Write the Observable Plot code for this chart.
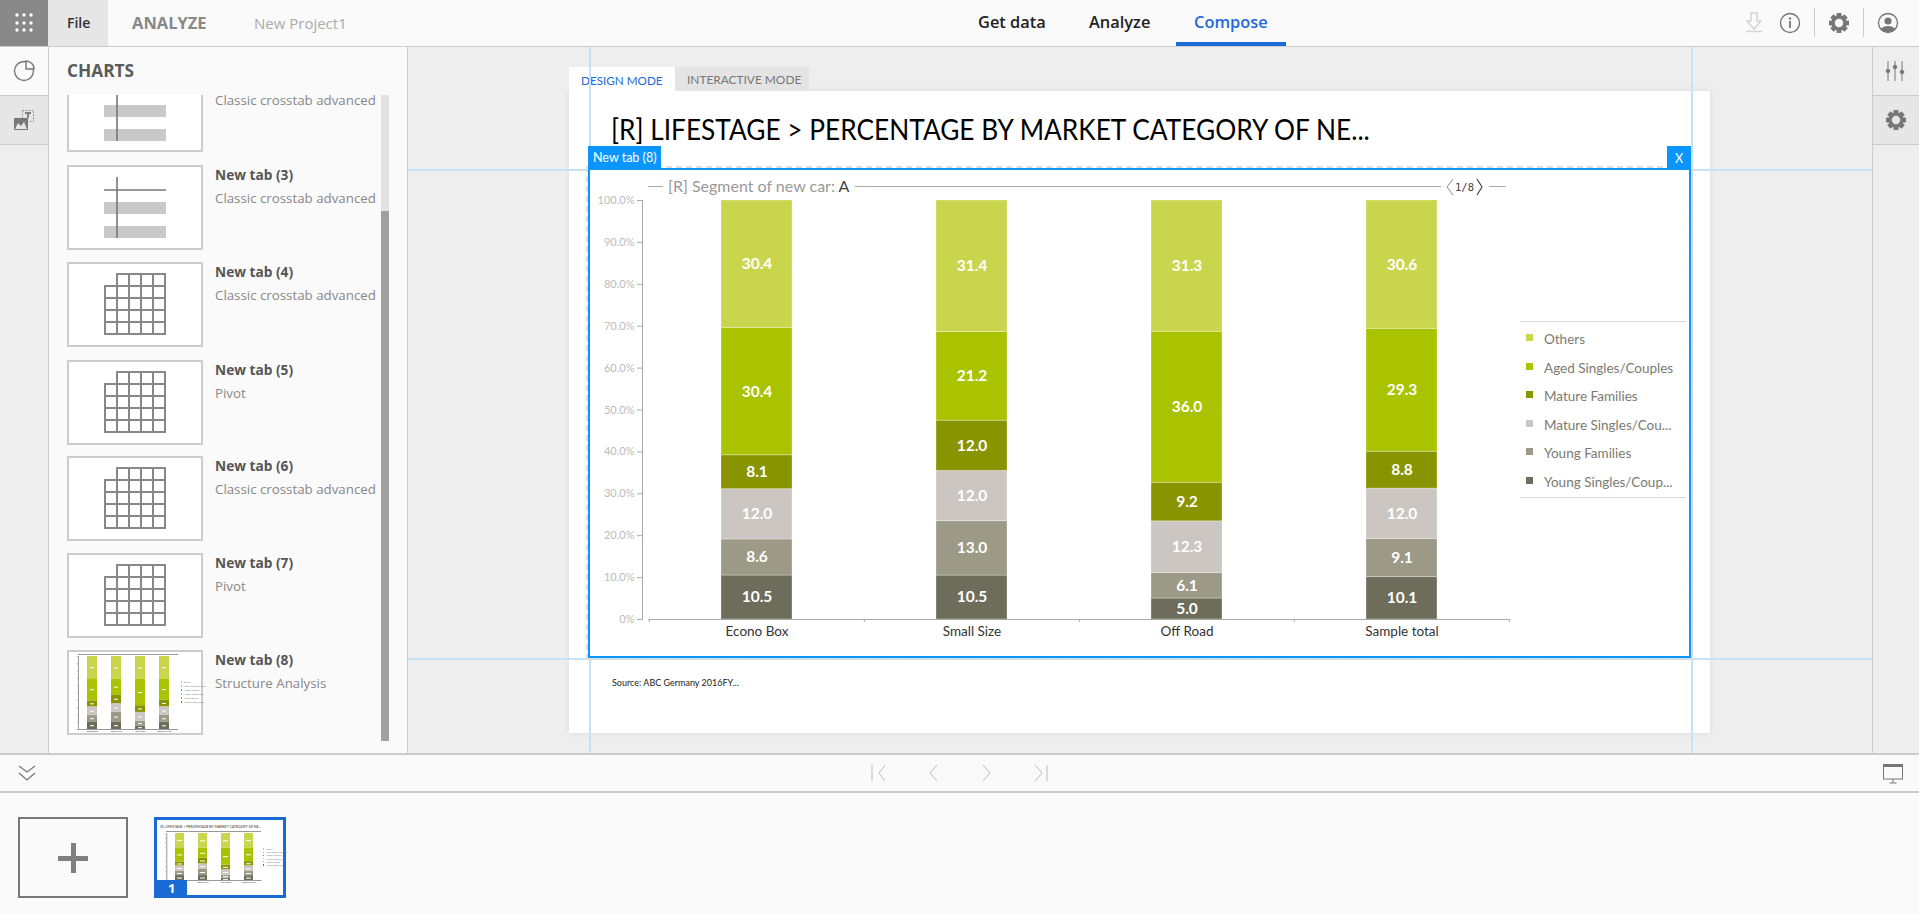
<!DOCTYPE html>
<html><head><meta charset="utf-8">
<script src="https://cdn.jsdelivr.net/npm/d3@7"></script>
<script src="https://cdn.jsdelivr.net/npm/@observablehq/plot@0.6"></script>
<style>
html,body{margin:0;padding:0;width:1919px;height:914px;overflow:hidden;background:#eee;font-family:"Open Sans",sans-serif}
.a{position:absolute;box-sizing:border-box;white-space:nowrap}
.pt{font-family:"Lato",sans-serif}
svg.ic{position:absolute;overflow:visible}
</style></head><body><div id="root"></div>
<script>
const categories=["Econo Box","Small Size","Off Road","Sample total"];
const groups=["Young Singles/Couples","Young Families","Mature Singles/Couples","Mature Families","Aged Singles/Couples","Others"];
const legendLabels=["Others","Aged Singles/Couples","Mature Families","Mature Singles/Cou...","Young Families","Young Singles/Coup..."];
const colors=["#6e6d5b","#9c9a86","#cbc6c2","#889400","#a9c300","#c9d64d"];
const youngSingles=[10.5,10.5,5.0,10.1];
const youngFamilies=[8.6,13.0,6.1,9.1];
const matureSingles=[12.0,12.0,12.3,12.0];
const matureFamilies=[8.1,12.0,9.2,8.8];
const agedSingles=[30.4,21.2,36.0,29.3];
const others=[30.4,31.4,31.3,30.6];
const seriesValues=[youngSingles,youngFamilies,matureSingles,matureFamilies,agedSingles,others];
const table=groups.flatMap((g,i)=>categories.map((c,j)=>({category:c,group:g,value:seriesValues[i][j]})));
const sideItems=[[null,"Classic crosstab advanced"],["New tab (3)","Classic crosstab advanced"],["New tab (4)","Classic crosstab advanced"],["New tab (5)","Pivot"],["New tab (6)","Classic crosstab advanced"],["New tab (7)","Pivot"],["New tab (8)","Structure Analysis"]];
const chartTitle="[R] LIFESTAGE > PERCENTAGE BY MARKET CATEGORY OF NE...";

const root=document.getElementById("root");
function box(l,t,w,h,bg,extra=""){const d=document.createElement("div");d.className="a";d.style.cssText=`left:${l}px;top:${t}px;width:${w}px;height:${h}px;background:${bg};${extra}`;root.appendChild(d);return d;}
function txt(s,l,cy,css,cls=""){const d=document.createElement("div");d.className="a "+cls;d.textContent=s;d.style.cssText=`left:${l}px;top:${cy-15}px;height:30px;line-height:30px;${css}`;root.appendChild(d);return d;}
function svg(l,t,w,h,inner){const d=document.createElement("div");d.innerHTML=`<svg class="ic" style="left:${l}px;top:${t}px" width="${w}" height="${h}" viewBox="0 0 ${w} ${h}">${inner}</svg>`;const s=d.firstChild;root.appendChild(s);return s;}
const gear=(c)=>{let t="";for(let i=0;i<8;i++)t+=`<rect x="-2.4" y="-10" width="4.8" height="4.5" fill="${c}" transform="rotate(${i*45})"/>`;return t+`<circle r="6" fill="none" stroke="${c}" stroke-width="3.6"/>`;};

// ---- chrome
box(0,0,1919,46,"#fafafa");box(0,46,1919,1,"#ccc");
box(0,0,48,46,"#888");
let dots="";for(const y of [15,23,30])for(const x of [17,24,31])dots+=`<circle cx="${x}" cy="${y}" r="1.7" fill="#fff"/>`;svg(0,0,48,46,dots);
box(48,0,60,46,"#e6e6e6");
txt("File",67,23,"font-size:14px;font-weight:600;color:#333");
txt("ANALYZE",132,23,"font-size:16.5px;font-weight:700;color:#888");
txt("New Project1",254,23,"font-size:15px;color:#aaa");
txt("Get data",978,22,"font-size:16.4px;font-weight:600;color:#222");
txt("Analyze",1089,22,"font-size:16.4px;font-weight:600;color:#222");
txt("Compose",1194,22,"font-size:16.4px;font-weight:600;color:#2469d8");
box(1176,42,110,4,"#1a6ad6");
// top right icons
svg(1740,10,30,26,`<path d="M11 3h6v8h4l-7 8-7-8h4z" fill="none" stroke="#d4d4d4" stroke-width="1.5"/><path d="M6 21.5h16" stroke="#d4d4d4" stroke-width="1.5"/>`);
svg(1778,10,26,26,`<circle cx="12" cy="13" r="9.5" fill="none" stroke="#777" stroke-width="1.4"/><circle cx="12" cy="8.5" r="1.2" fill="#777"/><path d="M12 11v7" stroke="#777" stroke-width="1.8"/>`);
box(1814,8,1,29,"#ccc");box(1863,8,1,29,"#ccc");
svg(1826,10,26,26,`<g transform="translate(13,13)">${gear("#777")}</g>`);
svg(1875,10,26,26,`<circle cx="13" cy="13" r="9.5" fill="none" stroke="#777" stroke-width="1.4"/><circle cx="13" cy="11" r="3.6" fill="#777"/><path d="M6 19c2-4 12-4 14 0l-3 3h-8z" fill="#777"/>`);

// left rail + sidebar
box(0,47,48,48,"#fafafa");box(0,95,48,1,"#ccc");box(0,96,48,48,"#e6e6e6");box(0,144,48,1,"#ccc");box(48,47,1,706,"#ccc");
svg(12,58,26,26,`<circle cx="12" cy="13" r="9.5" fill="none" stroke="#777" stroke-width="1.4"/><path d="M14 3v8h8a8 8 0 0 0-8-8z" fill="#fafafa" stroke="#777" stroke-width="1.4"/>`);
svg(12,108,26,26,`<path d="M2 22V10h14v12z" fill="#777"/><path d="M3 21l3-6 3 3 3-4 3 7z" fill="#e6e6e6"/><rect x="10.5" y="2.5" width="11" height="11" fill="none" stroke="#888" stroke-dasharray="1.5 1.5"/><path d="M13 5h6M16 5v5" stroke="#666" stroke-width="1.5"/>`);
box(49,47,358,706,"#fafafa");box(407,47,1,706,"#ccc");
txt("CHARTS",67,71,"font-size:17.3px;font-weight:700;color:#5a5a5a");
// guides + workspace
box(408,47,1464,706,"#eee");
box(1872,47,1,706,"#ccc");box(1873,47,46,48,"#eee");box(1873,95,46,1,"#ccc");box(1873,96,46,48,"#e6e6e6");box(1873,144,46,1,"#ccc");
svg(1880,56,32,30,`<g stroke="#777" stroke-width="1" fill="#777"><path d="M8 5v20M15 5v20M22 5v20"/><circle cx="8" cy="15" r="1.8"/><circle cx="15" cy="11" r="1.8"/><circle cx="22" cy="16" r="1.8"/></g>`);
svg(1883,107,26,26,`<g transform="translate(13,13)">${gear("#777")}</g>`);

// page
box(569,91,1141,642,"#fff","box-shadow:0 0 6px rgba(0,0,0,.08)");
box(569,67,106,24,"#fff");box(675,67,134,24,"#e4e4e4");
txt("DESIGN MODE",581,80,"font-size:11.7px;color:#2469d8;","pt");
txt("INTERACTIVE MODE",687,80,"font-size:11.9px;color:#777;","pt");
txt(chartTitle,611,129,"font-size:29.5px;color:#000;transform-origin:left center;transform:scaleX(0.89);","pt");
txt("Source: ABC Germany 2016FY...",612,683,"font-size:9px;color:#222;","pt");
// guides
const gc="#c4e3f7";
box(408,169,1464,2,gc);box(408,658,1464,2,gc);box(589,47,2,706,gc);box(1691,47,2,706,gc);
// frame
box(586,166,1107,494,"transparent","border:2px dashed #ddd");
box(588,168,1103,490,"#fff","border:2.5px solid #0b96ff");
box(588,146,73,23,"#0b96ff");txt("New tab (8)",593,158,"font-size:12.5px;color:#fff;","pt");
box(1667,146,24,23,"#0b96ff");txt("X",1675,159,"font-size:12.5px;color:#fff;","pt");

// header of the chart
const lineC="#aaa";
box(648,186,15,1,lineC);
const seg=txt("",668,186,"font-size:16px;color:#999;","pt");
seg.innerHTML='[R] Segment of new car: <span style="color:#444">A</span>';
box(855,186,586,1,lineC);
svg(1442,176,52,22,`<path d="M11 3l-6 8 6 8" fill="none" stroke="#888" stroke-width="1"/><path d="M35 3l5 8-5 8" fill="none" stroke="#444" stroke-width="1.2"/>`);
txt("1/8",1455,187,"font-size:10.5px;color:#444;font-family:'DejaVu Sans Mono',monospace");
box(1489,186,17,1,lineC);

// ---- main chart
function chart(){
  const step=215.4;
  const yFmt=d=>d===0?"0%":(d*100).toFixed(1)+"%";
  const stack={offset:"normalize",order:groups};
  const p=Plot.plot({
    width:1100,height:470,marginLeft:52,marginRight:180,marginTop:30,marginBottom:21,
    style:{background:"transparent",fontFamily:"Lato, sans-serif",overflow:"visible"},
    x:{type:"band",domain:categories,paddingInner:0.669,paddingOuter:0.3345,align:0.5,insetLeft:6.4,label:null},
    y:{domain:[0,1],label:null},
    color:{domain:groups,range:colors},
    marks:[
      Plot.barY(table,Plot.stackY(stack,{x:"category",y:"value",z:"group",fill:"group",stroke:"#fff",strokeOpacity:0.3,strokeWidth:1})),
      Plot.text(table,Plot.stackY(stack,{x:"category",y:"value",z:"group",text:d=>d.value.toFixed(1),fill:"#fff",fontSize:15.5,fontWeight:700})),
      Plot.frame({anchor:"left",stroke:"#aaa"}),
      Plot.axisY({ticks:d3.range(0,1.01,0.1),tickFormat:yFmt,tickSize:5,tickPadding:3,stroke:"#aaa",fill:"#bbb",fontSize:11,label:null}),
      Plot.ruleY([0],{insetLeft:6.4,stroke:"#aaa"}),
      Plot.axisX({tickSize:0,tickPadding:7,fill:"#333",fontSize:13.5,label:null}),
      Plot.axisX({tickSize:3,fill:"none",stroke:"#aaa",dx:-step/2,label:null}),
      Plot.axisX([categories[3]],{tickSize:3,fill:"none",stroke:"#aaa",dx:step/2,label:null})
    ]
  });
  p.style.position="absolute";p.style.left="590px";p.style.top="170px";
  root.appendChild(p);
}
chart();
// legend
box(1520,321,166,1,"#ddd");box(1520,497,166,1,"#ddd");
const legendColors=colors.slice().reverse();
const legY=[338,367,395,424,452,481];
legendLabels.forEach((s,i)=>{box(1526,legY[i]-4,7,7,legendColors[i]);txt(s,1544,legY[i]+1,"font-size:13.5px;color:#7a7a72;","pt");});

// ---- sidebar list
const itemTop=[67,165,262,360,456,553,650];
sideItems.forEach((it,i)=>{
  const t=itemTop[i];
  const vis=Math.max(t,95);
  box(67,vis,136,t+85-vis,"#fff",`border:2px solid #ccc;${i==0?"border-top:none;":""}`);
  if(it[0])txt(it[0],215,t+10,"font-size:13.7px;font-weight:700;color:#555");
  txt(it[1],215,t+33,"font-size:13.3px;color:#888");
  if(i===0)svg(67,95,136,57,`<rect x="37" y="10" width="62" height="12" fill="#c9c9c9"/><rect x="37" y="34" width="62" height="12" fill="#c9c9c9"/><path d="M50 0v46" stroke="#777" stroke-width="1.6"/>`);
  if(i===1)svg(67,t,136,85,`<rect x="37" y="37" width="62" height="12" fill="#c9c9c9"/><rect x="37" y="61" width="62" height="12" fill="#c9c9c9"/><path d="M50 12v61" stroke="#777" stroke-width="1.6"/><path d="M37 25h62" stroke="#777" stroke-width="1.6"/>`);
  if(i>=2&&i<=5){let g="";
    for(let r=0;r<5;r++)for(let c=0;c<5;c++){if(r<1&&c<1)continue;g+=`<rect x="${38+c*12}" y="${12+r*12}" width="12" height="12" fill="none" stroke="#888" stroke-width="2"/>`;}
    svg(67,t,136,85,g);}
});
box(381,95,8,646,"#e2e2e2");box(381,211,8,530,"#a0a0a0");

function mini(host,w,h,m,ins){
  const stack={offset:"normalize",order:groups};
  const p=Plot.plot({width:w,height:h,...m,
    style:{background:"transparent",position:"absolute",left:host[0]+"px",top:host[1]+"px",overflow:"visible"},
    x:{type:"band",domain:categories,paddingInner:0.59,paddingOuter:0.31,label:null},y:{domain:[0,1],label:null},color:{domain:groups,range:colors},
    marks:[
      Plot.barY(table,Plot.stackY(stack,{x:"category",y:"value",z:"group",fill:"group"})),
      Plot.tickY(table,Plot.stackY(stack,{x:"category",y:"value",z:"group",stroke:"#fff",insetLeft:ins,insetRight:ins})),
      Plot.frame({anchor:"left",stroke:"#999"}),
      Plot.ruleY([0],{stroke:"#999"}),
      Plot.axisY({ticks:10,tickSize:1.5,stroke:"#ccc",fill:"none",label:null}),
      Plot.axisX({tickSize:0,tickPadding:1,fontSize:2.4,fill:"#333",label:null})
    ]});
  root.appendChild(p);
}
function miniLegend(x,y0,dy,size){
  legendLabels.forEach((s,i)=>{box(x,y0+i*dy-.6,1.3,1.3,legendColors[i]);txt(s,x+3,y0+i*dy,`font-size:${size}px;color:#777;`,"pt");});
}
mini([69,652],132,81,{marginLeft:9,marginRight:23,marginTop:4,marginBottom:4},3);
box(78,654,100,1,"#999");
miniLegend(180.5,682,4,2.3);
// bottom
box(0,753,1919,2,"#ccc");box(0,755,1919,36,"#fafafa");box(0,791,1919,2,"#ccc");box(0,793,1919,121,"#fafafa");
svg(17,764,20,20,`<path d="M2 2l8 6 8-6M2 9l8 7 8-7" fill="none" stroke="#777" stroke-width="1.2"/>`);
const nav="#bbb";
svg(870,764,18,18,`<path d="M2 1v16M15 1l-6 8 6 8" fill="none" stroke="${nav}"/>`);
svg(925,764,16,18,`<path d="M12 1l-7 8 7 8" fill="none" stroke="${nav}"/>`);
svg(980,764,16,18,`<path d="M3 1l7 8-7 8" fill="none" stroke="${nav}"/>`);
svg(1033,764,18,18,`<path d="M14 1v16M2 1l7 8-7 8" fill="none" stroke="${nav}"/>`);
svg(1882,764,24,20,`<rect x="1.5" y="1" width="19" height="14" fill="none" stroke="#777" stroke-width="1"/><rect x="1" y="0" width="20" height="3" fill="#777"/><path d="M11 15v4M7.5 19h7" stroke="#777"/>`);
box(18,817,110,81,"#fafafa","border:2px solid #777");
box(58,856,30,5,"#808080");box(71,843,5,30,"#808080");
box(154,817,132,81,"#fff","border:3px solid #1a6ad6");
txt(chartTitle,160,827,"font-size:3.5px;color:#333;","pt");
mini([157,830],126,55,{marginLeft:9.3,marginRight:21.5,marginTop:3,marginBottom:5},2);
box(166,831,95,.7,"#999");
miniLegend(263,849,3.2,2.2);
box(154,880,33,18,"#1a6ad6");txt("1",168,888,"font-size:13px;font-weight:700;color:#fff");
</script></body></html>
